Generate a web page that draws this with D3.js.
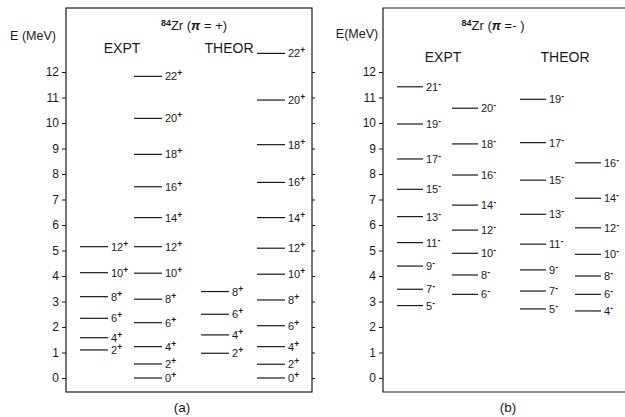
<!DOCTYPE html>
<html lang="en">
  <head>
    <meta charset="UTF-8" />
    <title>84Zr levels</title>
    <style>
      body { margin: 0; background: #fff; }
      text { font-family: "Liberation Sans", Arial, sans-serif; fill: #1a1a1a; }
    </style>
  </head>
  <body>
    <script src="https://d3js.org/d3.v7.min.js"></script>
    <script>
      const width = 625;
      const height = 417;

      // level schemes, energies in MeV
      const posExptA = { spins: [2, 4, 6, 8, 10, 12], energies: [1.1, 1.58, 2.34, 3.19, 4.13, 5.15] };
      const posExptB = {
        spins: [0, 2, 4, 6, 8, 10, 12, 14, 16, 18, 20, 22],
        energies: [0, 0.55, 1.23, 2.17, 3.09, 4.11, 5.15, 6.29, 7.5, 8.77, 10.18, 11.83],
      };
      const posTheorA = { spins: [2, 4, 6, 8], energies: [0.97, 1.69, 2.5, 3.39] };
      const posTheorB = {
        spins: [0, 2, 4, 6, 8, 10, 12, 14, 16, 18, 20, 22],
        energies: [0, 0.54, 1.23, 2.05, 3.06, 4.07, 5.09, 6.29, 7.67, 9.15, 10.9, 12.73],
      };
      const negExptA = {
        spins: [5, 7, 9, 11, 13, 15, 17, 19, 21],
        energies: [2.84, 3.48, 4.39, 5.31, 6.33, 7.4, 8.59, 9.96, 11.42],
      };
      const negExptB = {
        spins: [6, 8, 10, 12, 14, 16, 18, 20],
        energies: [3.28, 4.04, 4.89, 5.8, 6.78, 7.96, 9.18, 10.58],
      };
      const negTheorA = {
        spins: [5, 7, 9, 11, 13, 15, 17, 19],
        energies: [2.71, 3.41, 4.24, 5.25, 6.42, 7.76, 9.23, 10.93],
      };
      const negTheorB = {
        spins: [4, 6, 8, 10, 12, 14, 16],
        energies: [2.63, 3.28, 4.0, 4.85, 5.89, 7.05, 8.44],
      };
      const energyTicks = d3.range(0, 13);

      const svg = d3.select("body").append("svg")
        .attr("width", width).attr("height", height);

      const y = d3.scaleLinear().domain([0, 12]).range([378, 72]);

      const panels = [
        {
          left: 66, right: 312, top: 8, bottom: 392, closed: true,
          parity: "+", titleX: 194, headY: 53, exptX: 122, theorX: 229, capX: 182,
          cap: "(a)", eX: 33, eY: 40, eLabel: "E (MeV)",
          cols: [posExptA, posExptB, posTheorA, posTheorB],
          colX: [80, 134, 201, 257], lineW: 28,
        },
        {
          left: 383, right: 660, top: 8, bottom: 392, closed: false,
          parity: "-", titleX: 493, headY: 62, exptX: 443, theorX: 565, capX: 508,
          cap: "(b)", eX: 357, eY: 38, eLabel: "E(MeV)",
          cols: [negExptA, negExptB, negTheorA, negTheorB],
          colX: [397, 452, 520, 575], lineW: 26,
        },
      ];

      panels.forEach((p) => {
        const g = svg.append("g");
        const stroke = "#1a1a1a";

        // frame
        if (p.closed) {
          g.append("rect")
            .attr("x", p.left).attr("y", p.top)
            .attr("width", p.right - p.left).attr("height", p.bottom - p.top)
            .attr("fill", "none").attr("stroke", stroke).attr("stroke-width", 1.2);
        } else {
          g.append("path")
            .attr("d", `M${p.right},${p.top}H${p.left}V${p.bottom}H${p.right}`)
            .attr("fill", "none").attr("stroke", stroke).attr("stroke-width", 1.2);
        }

        // energy axis
        const ax = g.append("g")
          .attr("transform", `translate(${p.left},0)`)
          .call(d3.axisLeft(y).tickValues(energyTicks).tickSize(4).tickPadding(3).tickFormat(d3.format("d")));
        ax.select(".domain").remove();
        ax.selectAll("line").attr("stroke", stroke);
        ax.selectAll("text").attr("font-size", 12).attr("font-family", "Liberation Sans, Arial, sans-serif")
          .attr("fill", "#1a1a1a");

        if (p.closed) {
          const axr = g.append("g")
            .attr("transform", `translate(${p.right},0)`)
            .call(d3.axisRight(y).tickValues(energyTicks).tickSize(3).tickFormat(""));
          axr.select(".domain").remove();
          axr.selectAll("line").attr("stroke", stroke);
        }

        g.append("text").attr("x", p.eX).attr("y", p.eY)
          .attr("text-anchor", "middle").attr("font-size", 12.5).text(p.eLabel);

        // title
        const t = g.append("text").attr("x", p.titleX).attr("y", 30)
          .attr("text-anchor", "middle").attr("font-size", 13);
        t.append("tspan").attr("font-size", 9).attr("dy", -4).attr("font-weight", "bold").text("84");
        t.append("tspan").attr("dy", 4).text("Zr  (");
        t.append("tspan").attr("font-style", "italic").attr("font-weight", "bold").text("π");
        t.append("tspan").text(p.parity === "+" ? " = +)" : " =- )");

        g.append("text").attr("x", p.exptX).attr("y", p.headY)
          .attr("text-anchor", "middle").attr("font-size", 14).text("EXPT");
        g.append("text").attr("x", p.theorX).attr("y", p.headY)
          .attr("text-anchor", "middle").attr("font-size", 14).text("THEOR");

        g.append("text").attr("x", p.capX).attr("y", 412)
          .attr("text-anchor", "middle").attr("font-size", 13.5).text(p.cap);

        // levels
        p.cols.forEach((col, ci) => {
          const x0 = p.colX[ci];
          const levels = col.spins.map((s, i) => ({ s, e: col.energies[i] }));
          const lg = g.append("g");
          lg.selectAll("line").data(levels).join("line")
            .attr("x1", x0).attr("x2", x0 + p.lineW)
            .attr("y1", (d) => y(d.e)).attr("y2", (d) => y(d.e))
            .attr("stroke", stroke).attr("stroke-width", 1.2);
          const lt = lg.selectAll("text").data(levels).join("text")
            .attr("x", x0 + p.lineW + 3).attr("y", (d) => y(d.e) + 4)
            .attr("font-size", 11);
          lt.append("tspan").text((d) => d.s);
          lt.append("tspan").attr("dy", -4).attr("font-size", 8.5).attr("font-weight", "bold").text(p.parity);
        });
      });
    </script>
  </body>
</html>
